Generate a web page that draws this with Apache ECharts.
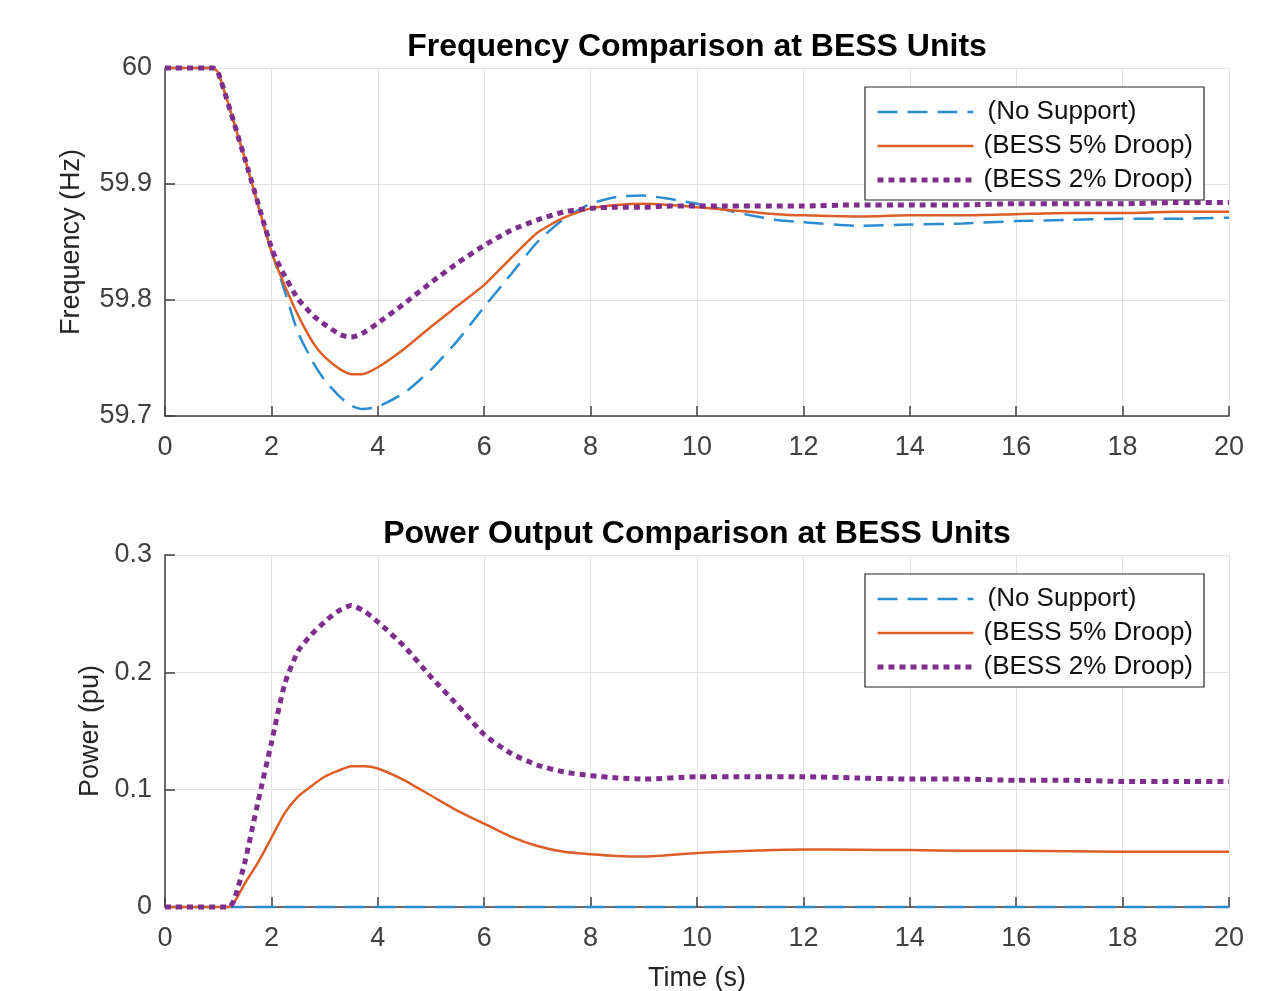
<!DOCTYPE html>
<html>
<head>
<meta charset="utf-8">
<script src="https://cdn.jsdelivr.net/npm/echarts@6/dist/echarts.min.js"></script>
<style>
html,body{margin:0;padding:0;background:#fff;}
#chart{width:1286px;height:991px;}
</style>
</head>
<body>
<div id="chart"></div>
<script>
// ---------- data ----------
const seriesNames = ['(No Support)', '(BESS 5% Droop)', '(BESS 2% Droop)'];

const timeF = [0, 0.9, 1.0, 1.5, 2.0, 2.2, 2.5, 2.8, 3.0, 3.3, 3.5, 3.7, 4.0, 4.5, 5, 5.5, 6, 6.5, 7, 7.5, 8, 8.5, 9, 9.5, 10, 10.5, 11, 11.5, 12, 13, 14, 15, 16, 17, 18, 19, 20];
const freqNoSupport = [60, 60, 59.996, 59.922, 59.842, 59.815, 59.772, 59.745, 59.731, 59.716, 59.709, 59.706, 59.708, 59.720, 59.740, 59.765, 59.794, 59.822, 59.850, 59.870, 59.883, 59.889, 59.890, 59.887, 59.883, 59.878, 59.873, 59.869, 59.867, 59.864, 59.865, 59.866, 59.868, 59.869, 59.870, 59.870, 59.871];
const freqDroop5 = [60, 60, 59.996, 59.922, 59.842, 59.818, 59.787, 59.762, 59.751, 59.740, 59.736, 59.736, 59.742, 59.758, 59.777, 59.795, 59.813, 59.836, 59.858, 59.871, 59.879, 59.882, 59.883, 59.882, 59.880, 59.878, 59.876, 59.874, 59.873, 59.872, 59.873, 59.873, 59.874, 59.875, 59.875, 59.876, 59.876];
const freqDroop2 = [60, 60, 59.996, 59.922, 59.845, 59.825, 59.801, 59.786, 59.779, 59.770, 59.768, 59.771, 59.780, 59.797, 59.815, 59.832, 59.847, 59.860, 59.869, 59.876, 59.879, 59.880, 59.880, 59.881, 59.881, 59.881, 59.881, 59.881, 59.881, 59.882, 59.882, 59.882, 59.883, 59.883, 59.883, 59.884, 59.884];

const timeP = [0, 1.2, 1.3, 1.5, 1.75, 2.0, 2.25, 2.5, 2.75, 3.0, 3.25, 3.5, 3.75, 4.0, 4.5, 5, 5.5, 6, 6.5, 7, 7.5, 8, 8.5, 9, 10, 11, 12, 13, 14, 15, 16, 17, 18, 19, 20];
const powNoSupport = [0, 0, 0, 0, 0, 0, 0, 0, 0, 0, 0, 0, 0, 0, 0, 0, 0, 0, 0, 0, 0, 0, 0, 0, 0, 0, 0, 0, 0, 0, 0, 0, 0, 0, 0];
const powDroop5 = [0, 0, 0.004, 0.020, 0.038, 0.059, 0.080, 0.094, 0.103, 0.111, 0.116, 0.120, 0.120, 0.118, 0.108, 0.095, 0.082, 0.071, 0.060, 0.052, 0.047, 0.045, 0.0435, 0.043, 0.046, 0.048, 0.049, 0.0488, 0.0485, 0.048, 0.048, 0.0475, 0.047, 0.047, 0.047];
const powDroop2 = [0, 0, 0.006, 0.038, 0.090, 0.140, 0.190, 0.218, 0.232, 0.243, 0.252, 0.257, 0.252, 0.243, 0.222, 0.196, 0.172, 0.147, 0.131, 0.121, 0.115, 0.112, 0.110, 0.109, 0.111, 0.111, 0.111, 0.110, 0.109, 0.109, 0.108, 0.108, 0.107, 0.107, 0.107];

const freqTicks = { min: 59.7, max: 60, interval: 0.1 };
const powTicks = { min: 0, max: 0.3, interval: 0.1 };
const timeTicks = { min: 0, max: 20, interval: 2 };

// ---------- styles ----------
const FONT = 'Liberation Sans, Arial, Helvetica, sans-serif';
const colors = ['#2b8ccf', '#dd5f28', '#7e2f8e'];
const lineStyles = [
  { color: colors[0], width: 2.5, type: [20, 10] },
  { color: colors[1], width: 2.5, type: 'solid' },
  { color: colors[2], width: 5, type: [6, 5] }
];
const legendTextPad = [9, 5, 5];

function pairs(t, v) { return t.map((x, i) => [x, v[i]]); }

function xAxisDef(gridIndex, withName) {
  return {
    type: 'value', gridIndex: gridIndex,
    min: timeTicks.min, max: timeTicks.max, interval: timeTicks.interval,
    name: withName ? 'Time (s)' : '',
    nameLocation: 'middle', nameGap: 58,
    nameTextStyle: { fontFamily: FONT, fontSize: 27, color: '#262626' },
    axisLine: { show: true, onZero: false, lineStyle: { color: '#404040', width: 1.5 } },
    axisTick: { show: true, inside: true, length: 10, lineStyle: { color: '#404040', width: 1.5 } },
    axisLabel: { fontFamily: FONT, fontSize: 27, color: '#404040', margin: 18 },
    splitLine: { show: true, lineStyle: { color: '#e3e3e3', width: 1 } }
  };
}
function yAxisDef(gridIndex, name, ticks, gap) {
  return {
    type: 'value', gridIndex: gridIndex,
    min: ticks.min, max: ticks.max, interval: ticks.interval,
    name: name, nameLocation: 'middle', nameGap: gap,
    nameTextStyle: { fontFamily: FONT, fontSize: 27, color: '#262626' },
    axisLine: { show: true, lineStyle: { color: '#404040', width: 1.5 } },
    axisTick: { show: true, inside: true, length: 10, lineStyle: { color: '#404040', width: 1.5 } },
    axisLabel: { fontFamily: FONT, fontSize: 27, color: '#404040', margin: 13 },
    splitLine: { show: true, lineStyle: { color: '#e3e3e3', width: 1 } }
  };
}
function legendDef(top) {
  return {
    orient: 'vertical', left: 865, top: top,
    data: seriesNames.map((n, i) => ({
      name: n,
      lineStyle: { color: colors[i], width: lineStyles[i].width, type: lineStyles[i].type },
      textStyle: { padding: [0, 0, 0, legendTextPad[i]] }
    })),
    backgroundColor: '#ffffff', borderColor: '#262626', borderWidth: 1.2, borderRadius: 0,
    padding: [8, 11, 3, 10],
    itemWidth: 96, itemHeight: 14, itemGap: 0,
    itemStyle: { opacity: 0 },
    textStyle: { fontFamily: FONT, fontSize: 26, lineHeight: 34, color: '#111' },
    selectedMode: false
  };
}
function lineSeries(i, xi, t, v) {
  return {
    name: seriesNames[i], type: 'line', xAxisIndex: xi, yAxisIndex: xi,
    data: pairs(t, v), symbol: 'none', showSymbol: false,
    smooth: 0.2, clip: false,
    lineStyle: lineStyles[i], itemStyle: { color: colors[i] },
    z: 2 + i
  };
}

const option = {
  animation: false,
  backgroundColor: '#ffffff',
  title: [
    { text: 'Frequency Comparison at BESS Units', left: 697, top: 31, textAlign: 'center', padding: 0,
      textStyle: { fontFamily: FONT, fontSize: 32, fontWeight: 'bold', color: '#000' } },
    { text: 'Power Output Comparison at BESS Units', left: 697, top: 518, textAlign: 'center', padding: 0,
      textStyle: { fontFamily: FONT, fontSize: 32, fontWeight: 'bold', color: '#000' } }
  ],
  legend: [legendDef(87), legendDef(574)],
  grid: [
    { left: 165, right: 57, top: 68, height: 348, containLabel: false, outerBoundsMode: 'none' },
    { left: 165, right: 57, top: 555, height: 352, containLabel: false, outerBoundsMode: 'none' }
  ],
  xAxis: [xAxisDef(0, false), xAxisDef(1, true)],
  yAxis: [yAxisDef(0, 'Frequency (Hz)', freqTicks, 80), yAxisDef(1, 'Power (pu)', powTicks, 61)],
  series: [
    lineSeries(0, 0, timeF, freqNoSupport),
    lineSeries(1, 0, timeF, freqDroop5),
    lineSeries(2, 0, timeF, freqDroop2),
    lineSeries(0, 1, timeP, powNoSupport),
    lineSeries(1, 1, timeP, powDroop5),
    lineSeries(2, 1, timeP, powDroop2)
  ]
};

const chart = echarts.init(document.getElementById('chart'), null, { renderer: 'canvas' });
chart.setOption(option);
</script>
</body>
</html>
